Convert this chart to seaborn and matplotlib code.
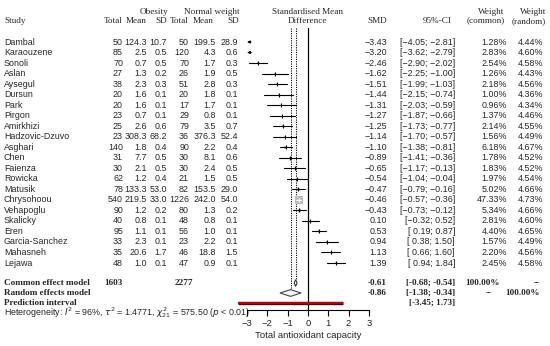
import numpy as np
import pandas as pd
import matplotlib
matplotlib.use("Agg")
import matplotlib.pyplot as plt
import seaborn as sns

# study data
studies = ["Dambal", "Karaouzene", "Sonoli", "Aslan", "Aysegul", "Dursun", "Park", "Pirgon",
           "Amirkhizi", "Hadzovic-Dzuvo", "Asghari", "Chen", "Faienza", "Rowicka", "Matusik",
           "Chrysohoou", "Vehapoglu", "Skalicky", "Eren", "Garcia-Sanchez", "Mahasneh", "Lejawa"]
ob_n = [50, 85, 70, 27, 38, 20, 20, 23, 25, 23, 140, 31, 30, 62, 78, 540, 90, 40, 95, 33, 35, 48]
ob_mean = [124.3, 2.5, 0.7, 1.3, 2.3, 1.6, 1.6, 0.7, 2.6, 308.3, 1.8, 7.7, 2.1, 1.2, 133.3, 219.5,
           1.2, 0.8, 1.1, 2.3, 20.6, 1.0]
ob_sd = [10.7, 0.5, 0.5, 0.2, 0.3, 0.1, 0.1, 0.1, 0.6, 68.2, 0.4, 0.5, 0.5, 0.4, 53.0, 33.0,
         0.2, 0.1, 0.1, 0.1, 1.7, 0.1]
nw_n = [50, 120, 70, 26, 51, 20, 17, 29, 79, 36, 90, 30, 30, 21, 82, 1226, 80, 48, 56, 23, 46, 47]
nw_mean = [199.5, 4.3, 1.7, 1.9, 2.8, 1.8, 1.7, 0.8, 3.5, 376.3, 2.2, 8.1, 2.4, 1.5, 153.5, 242.0,
           1.3, 0.8, 1.0, 2.2, 18.8, 0.9]
nw_sd = [28.9, 0.6, 0.3, 0.5, 0.3, 0.1, 0.1, 0.1, 0.7, 52.4, 0.4, 0.6, 0.5, 0.5, 29.0, 54.0,
         0.2, 0.1, 0.1, 0.1, 1.5, 0.1]
smd = [-3.43, -3.20, -2.46, -1.62, -1.51, -1.44, -1.31, -1.27, -1.25, -1.14, -1.10, -0.89, -0.65,
       -0.54, -0.47, -0.46, -0.43, 0.10, 0.53, 0.94, 1.13, 1.39]
ci_lo = [-4.05, -3.62, -2.90, -2.25, -1.99, -2.15, -2.03, -1.87, -1.73, -1.70, -1.38, -1.41, -1.17,
         -1.04, -0.79, -0.57, -0.73, -0.32, 0.19, 0.38, 0.66, 0.94]
ci_hi = [-2.81, -2.79, -2.02, -1.00, -1.03, -0.74, -0.59, -0.66, -0.77, -0.57, -0.81, -0.36, -0.13,
         -0.04, -0.16, -0.36, -0.12, 0.52, 0.87, 1.50, 1.60, 1.84]
w_common = [1.28, 2.83, 2.54, 1.26, 2.18, 1.00, 0.96, 1.37, 2.14, 1.56, 6.18, 1.78, 1.83, 1.97,
            5.02, 47.33, 5.34, 2.81, 4.40, 1.57, 2.20, 2.45]
w_random = [4.44, 4.60, 4.58, 4.43, 4.56, 4.36, 4.34, 4.46, 4.55, 4.49, 4.67, 4.52, 4.52, 4.54,
            4.66, 4.73, 4.66, 4.60, 4.65, 4.49, 4.56, 4.58]

# pooled results
common_est, common_lo, common_hi = -0.61, -0.68, -0.54
random_est, random_lo, random_hi = -0.86, -1.38, -0.34
pred_lo, pred_hi = -3.45, 1.73
total_ob, total_nw = 1603, 2277
x_ticks = [-3, -2, -1, 0, 1, 2, 3]

df = pd.DataFrame({"study": studies, "smd": smd, "lo": ci_lo, "hi": ci_hi, "w": w_common})
df["row"] = np.arange(len(df))

# layout (pixel based)
W, H = 550, 346
row0, step = 42, 10.524
def prow(px):
    return (px - row0) / step
r_common, r_random, r_pred, r_het = prow(283), prow(293), prow(303), prow(313)
x0px, upx = 308, 20.3

sns.set_theme(style="white")
plt.rcParams["font.family"] = ["Liberation Sans", "DejaVu Sans"]
fs = 6.4
serif = "Liberation Serif"

fig = plt.figure(figsize=(W / 100, H / 100), dpi=100)
ax = fig.add_axes([0, 0, 1, 1])
ax.set_xlim(0, W)
ax.set_ylim(prow(H), prow(0))
ax.axis("off")

# forest panel
fl, fr, ft, fb = 230, 390, 28, 310
ax2 = fig.add_axes([fl / W, (H - fb) / H, (fr - fl) / W, (fb - ft) / H])
ax2.set_xlim((fl - x0px) / upx, (fr - x0px) / upx)
ax2.set_ylim(prow(fb), prow(ft))
ax2.patch.set_alpha(0)
for s in ["top", "right", "left"]:
    ax2.spines[s].set_visible(False)
ax2.spines["bottom"].set_bounds(-3, 3)
ax2.spines["bottom"].set_linewidth(0.8)
ax2.spines["bottom"].set_color("black")

# reference lines
ax2.axvline(0, color="black", lw=0.9)
ax2.plot([common_est, common_est], [prow(ft), r_common - 0.25], color="black", lw=0.7, ls=(0, (1.2, 1.2)))
ax2.plot([random_est, random_est], [prow(ft), r_random - 0.3], color="black", lw=0.7, ls=(0, (1.2, 1.2)))

# squares
vis = df[df["smd"] >= -3]
sns.scatterplot(data=vis, x="smd", y="row", size="w", sizes=(0, 33), size_norm=(0, 47.33),
                marker="s", color="#bdbdbd", linewidth=0, legend=False, ax=ax2, zorder=2)

# confidence intervals
for _, r in df.iterrows():
    half = 4.0 * np.sqrt(r["w"] / 47.33) / upx
    inside = (r["smd"] - r["lo"] < half) and (r["hi"] - r["smd"] < half)
    col = "white" if inside else "black"
    if r["lo"] < -3:
        ax2.annotate("", xy=(-3, r["row"]), xytext=(r["hi"], r["row"]),
                     arrowprops=dict(arrowstyle="-|>", lw=0.7, color="black", mutation_scale=4,
                                     shrinkA=0, shrinkB=0))
    else:
        ax2.plot([r["lo"], r["hi"]], [r["row"], r["row"]], color=col, lw=0.8, zorder=3)
        ax2.plot([r["smd"]], [r["row"]], marker="|", ms=2.5, mew=0.8, color=col, zorder=3)

# diamonds
dh = 0.32
ax2.fill([common_lo, common_est, common_hi, common_est],
         [r_common, r_common - dh, r_common, r_common + dh], facecolor="white", edgecolor="#333333", lw=0.8, zorder=4)
ax2.fill([random_lo, random_est, random_hi, random_est],
         [r_random, r_random - dh, r_random, r_random + dh], facecolor="#f4f4f4", edgecolor="#444444", lw=0.8, zorder=4)
# prediction interval
ax2.plot([pred_lo, pred_hi], [r_pred, r_pred], color="#4a0000", lw=2.4, solid_capstyle="butt", zorder=4,
         clip_on=False)
ax2.plot([pred_lo, pred_hi], [r_pred, r_pred], color="#c00000", lw=1.5, solid_capstyle="butt", zorder=5,
         clip_on=False)

ax2.set_xticks(x_ticks)
ax2.set_xticklabels([str(t).replace("-", "\u2212") for t in x_ticks], fontsize=6.8)
ax2.tick_params(axis="x", bottom=True, direction="out", length=4, width=0.8, pad=2.5, color="black")
ax2.set_yticks([])
ax2.set_ylabel("")
ax2.set_xlabel("Total antioxidant capacity", fontsize=6.8)
ax2.xaxis.set_label_coords((x0px - fl) / (fr - fl), -0.075)

# headers
hy1, hy2 = prow(12), prow(21)
hk = dict(fontsize=6.6, family=serif, va="center")
ax.text(4, hy2, "Study", ha="left", **hk)
ax.text(154, hy1, "Obesity", ha="center", **hk)
ax.text(212, hy1, "Normal weight", ha="center", **hk)
for xr, lab in [(123, "Total"), (147, "Mean"), (167, "SD"), (189, "Total"), (214, "Mean"), (239, "SD")]:
    ax.text(xr, hy2, lab, ha="right", **hk)
ax.text(308, hy1, "Standardised Mean", ha="center", **hk)
ax.text(308, hy2, "Difference", ha="center", **hk)
ax.text(387, hy2, "SMD", ha="right", **hk)
ax.text(437, hy2, "95%-CI", ha="center", **hk)
ax.text(504, hy1, "Weight", ha="right", **hk)
ax.text(505, hy2, "(common)", ha="right", **hk)
ax.text(546, hy1, "Weight", ha="right", **hk)
ax.text(546, hy2, "(random)", ha="right", **hk)

# study rows
def m(v):
    return f"{v:.2f}".replace("-", "\u2212")
for i in range(len(studies)):
    tk = dict(fontsize=fs, va="center", ha="right")
    ax.text(4, i, studies[i], fontsize=fs, va="center", ha="left")
    ax.text(123, i, f"{ob_n[i]}", **tk)
    ax.text(147, i, f"{ob_mean[i]:.1f}", **tk)
    ax.text(167, i, f"{ob_sd[i]:.1f}", **tk)
    ax.text(189, i, f"{nw_n[i]}", **tk)
    ax.text(216, i, f"{nw_mean[i]:.1f}", **tk)
    ax.text(238, i, f"{nw_sd[i]:.1f}", **tk)
    ax.text(387, i, m(smd[i]), **tk)
    lo_s = m(ci_lo[i]) if ci_lo[i] < 0 else " " + m(ci_lo[i])
    ax.text(455, i, f"[{lo_s}; {m(ci_hi[i])}]", **tk)
    ax.text(507, i, f"{w_common[i]:.2f}%", **tk)
    ax.text(543, i, f"{w_random[i]:.2f}%", **tk)

# summary rows
sk = dict(fontsize=6.6, family=serif, fontweight="bold", va="center")
ax.text(4, r_common, "Common effect model", ha="left", **sk)
ax.text(4, r_random, "Random effects model", ha="left", **sk)
ax.text(4, r_pred, "Prediction interval", ha="left", **sk)
ax.text(123, r_common, f"{total_ob}", ha="right", **sk)
ax.text(193, r_common, f"{total_nw}", ha="right", **sk)
ax.text(387, r_common, f"{common_est:.2f}", ha="right", **sk)
ax.text(455, r_common, f"[{common_lo:.2f}; {common_hi:.2f}]", ha="right", **sk)
ax.text(500, r_common, "100.00%", ha="right", **sk)
ax.text(540, r_common, "--", ha="right", **sk)
ax.text(387, r_random, f"{random_est:.2f}", ha="right", **sk)
ax.text(455, r_random, f"[{random_lo:.2f}; {random_hi:.2f}]", ha="right", **sk)
ax.text(492, r_random, "--", ha="right", **sk)
ax.text(540, r_random, "100.00%", ha="right", **sk)
ax.text(455, r_pred, f"[{pred_lo:.2f}; {pred_hi:.2f}]", ha="right", **sk)
ax.text(4, r_het, r"Heterogeneity: $I^2$ = 96%, $\tau^2$ = 1.4771, $\chi^2_{21}$ = 575.50 ($p$ < 0.01)",
        fontsize=fs, ha="left", va="center")

fig.savefig("out.png", dpi=100)
